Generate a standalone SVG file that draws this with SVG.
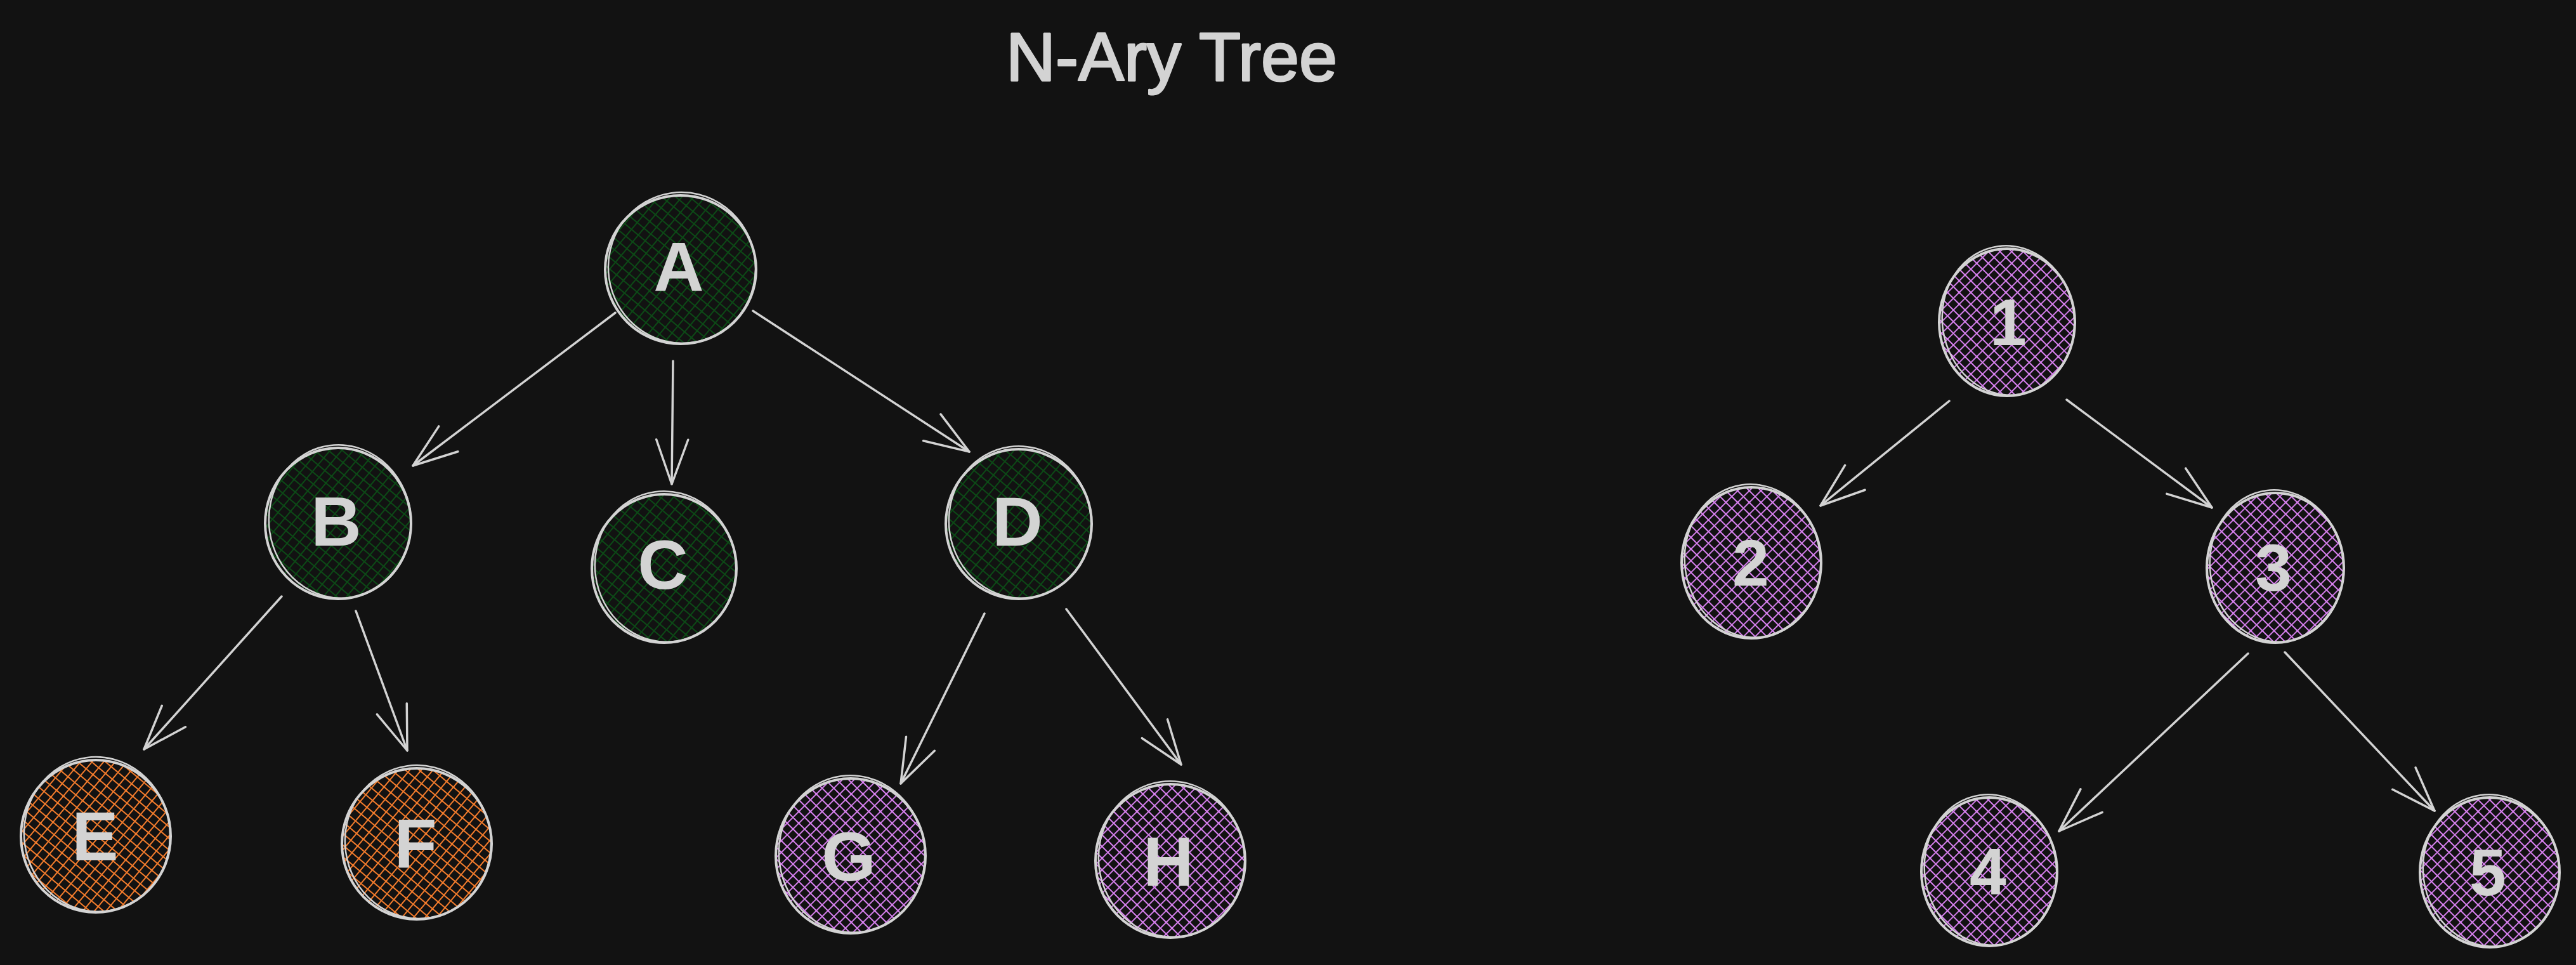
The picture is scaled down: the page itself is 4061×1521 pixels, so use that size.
<svg xmlns="http://www.w3.org/2000/svg" width="4061" height="1521" viewBox="0 0 4061 1521">
<style>
.bg{fill:#121212}
.title{font-family:"Liberation Sans",Arial,sans-serif;font-size:108px;fill:#d3d3d3;stroke:#d3d3d3;stroke-width:3;stroke-linejoin:round}
.lbl{font-family:"Liberation Sans",Arial,sans-serif;font-size:110px;font-weight:bold;fill:#d3d3d3;text-anchor:middle}
.ring{fill:none;stroke:#d3d3d3;stroke-width:4}
.ring2{fill:none;stroke:#d3d3d3;stroke-width:2.5}
.edge{fill:none;stroke:#d3d3d3;stroke-width:3.5;stroke-linecap:round;marker-end:url(#arr)}
.green{fill:url(#hGreen)}
.orange{fill:url(#hOrange)}
.purple{fill:url(#hPurple)}
</style>
<defs>
<pattern id="hGreen" patternUnits="userSpaceOnUse" width="14" height="14" patternTransform="rotate(40)">
<rect width="14" height="14" fill="#121212"/>
<path d="M0,0 H14 M0,0 V14" stroke="#0c4a16" stroke-width="4" fill="none"/>
</pattern>
<pattern id="hOrange" patternUnits="userSpaceOnUse" width="14" height="14" patternTransform="rotate(40)">
<rect width="14" height="14" fill="#121212"/>
<path d="M0,0 H14 M0,0 V14" stroke="#f47c2c" stroke-width="4" fill="none"/>
</pattern>
<pattern id="hPurple" patternUnits="userSpaceOnUse" width="13" height="13" patternTransform="rotate(45)">
<rect width="13" height="13" fill="#121212"/>
<path d="M0,0 H13 M0,0 V13" stroke="#da82f2" stroke-width="3.8" fill="none"/>
</pattern>
<marker id="arr" markerUnits="userSpaceOnUse" markerWidth="100" markerHeight="80" refX="0" refY="0" orient="auto" style="overflow:visible">
<path d="M-70,-25 L0,0 L-70,25" fill="none" stroke="#d3d3d3" stroke-width="3.5" stroke-linecap="round" stroke-linejoin="round"/>
</marker>
</defs>
<rect class="bg" x="0" y="0" width="4061" height="1521"/>
<text class="title" x="1847" y="127" text-anchor="middle">N-Ary Tree</text>

<g id="connectors">
<line class="edge" x1="970" y1="493" x2="651" y2="734"/>
<line class="edge" x1="1061" y1="569" x2="1059" y2="763"/>
<line class="edge" x1="1187" y1="490" x2="1528" y2="712"/>
<line class="edge" x1="444" y1="940" x2="227" y2="1181"/>
<line class="edge" x1="561" y1="963" x2="642" y2="1183"/>
<line class="edge" x1="1552" y1="967" x2="1420" y2="1235"/>
<line class="edge" x1="1681" y1="960" x2="1862" y2="1205"/>
<line class="edge" x1="3073" y1="632" x2="2870" y2="797"/>
<line class="edge" x1="3258" y1="630" x2="3487" y2="800"/>
<line class="edge" x1="3544" y1="1030" x2="3246" y2="1310"/>
<line class="edge" x1="3602" y1="1028" x2="3838" y2="1278"/>
</g>

<g id="node-A">
<ellipse class="green" cx="1073" cy="425" rx="119" ry="117"/>
<ellipse class="ring" cx="1073" cy="425" rx="119" ry="117"/>
<ellipse class="ring2" cx="1075" cy="422" rx="116" ry="119" transform="rotate(-8 1075 422)"/>
<text class="lbl" x="1070" y="458">A</text>
</g>
<g id="node-B">
<ellipse class="green" cx="533" cy="825" rx="115" ry="119"/>
<ellipse class="ring" cx="533" cy="825" rx="115" ry="119"/>
<ellipse class="ring2" cx="536" cy="822" rx="112" ry="121" transform="rotate(-8 536 822)"/>
<text class="lbl" x="530" y="860">B</text>
</g>
<g id="node-C">
<ellipse class="green" cx="1047" cy="896" rx="114" ry="117"/>
<ellipse class="ring" cx="1047" cy="896" rx="114" ry="117"/>
<ellipse class="ring2" cx="1049" cy="893" rx="111" ry="119" transform="rotate(-8 1049 893)"/>
<text class="lbl" x="1045" y="928">C</text>
</g>
<g id="node-D">
<ellipse class="green" cx="1606" cy="826" rx="115" ry="118"/>
<ellipse class="ring" cx="1606" cy="826" rx="115" ry="118"/>
<ellipse class="ring2" cx="1608" cy="823" rx="112" ry="120" transform="rotate(-8 1608 823)"/>
<text class="lbl" x="1604" y="860">D</text>
</g>
<g id="node-E">
<ellipse class="orange" cx="151" cy="1318" rx="118" ry="120"/>
<ellipse class="ring" cx="151" cy="1318" rx="118" ry="120"/>
<ellipse class="ring2" cx="153" cy="1315" rx="115" ry="122" transform="rotate(-8 153 1315)"/>
<text class="lbl" x="150" y="1356">E</text>
</g>
<g id="node-F">
<ellipse class="orange" cx="657" cy="1330" rx="118" ry="119"/>
<ellipse class="ring" cx="657" cy="1330" rx="118" ry="119"/>
<ellipse class="ring2" cx="659" cy="1327" rx="115" ry="121" transform="rotate(-8 659 1327)"/>
<text class="lbl" x="655" y="1368">F</text>
</g>
<g id="node-G">
<ellipse class="purple" cx="1341" cy="1349" rx="118" ry="122"/>
<ellipse class="ring" cx="1341" cy="1349" rx="118" ry="122"/>
<ellipse class="ring2" cx="1343" cy="1346" rx="115" ry="124" transform="rotate(-8 1343 1346)"/>
<text class="lbl" x="1338" y="1388">G</text>
</g>
<g id="node-H">
<ellipse class="purple" cx="1845" cy="1357" rx="118" ry="121"/>
<ellipse class="ring" cx="1845" cy="1357" rx="118" ry="121"/>
<ellipse class="ring2" cx="1847" cy="1354" rx="115" ry="123" transform="rotate(-8 1847 1354)"/>
<text class="lbl" x="1842" y="1396">H</text>
</g>
<g id="node-1">
<ellipse class="purple" cx="3164" cy="508" rx="107" ry="116"/>
<ellipse class="ring" cx="3164" cy="508" rx="107" ry="116"/>
<ellipse class="ring2" cx="3166" cy="505" rx="104" ry="118" transform="rotate(-8 3166 505)"/>
<text class="lbl" x="3166" y="544" style="font-size:104px">1</text>
</g>
<g id="node-2">
<ellipse class="purple" cx="2761" cy="887" rx="110" ry="119"/>
<ellipse class="ring" cx="2761" cy="887" rx="110" ry="119"/>
<ellipse class="ring2" cx="2763" cy="884" rx="107" ry="121" transform="rotate(-8 2763 884)"/>
<text class="lbl" x="2760" y="923" style="font-size:104px">2</text>
</g>
<g id="node-3">
<ellipse class="purple" cx="3587" cy="895" rx="108" ry="118"/>
<ellipse class="ring" cx="3587" cy="895" rx="108" ry="118"/>
<ellipse class="ring2" cx="3589" cy="892" rx="105" ry="120" transform="rotate(-8 3589 892)"/>
<text class="lbl" x="3584" y="931" style="font-size:104px">3</text>
</g>
<g id="node-4">
<ellipse class="purple" cx="3136" cy="1374" rx="107" ry="117"/>
<ellipse class="ring" cx="3136" cy="1374" rx="107" ry="117"/>
<ellipse class="ring2" cx="3138" cy="1371" rx="104" ry="119" transform="rotate(-8 3138 1371)"/>
<text class="lbl" x="3134" y="1410" style="font-size:104px">4</text>
</g>
<g id="node-5">
<ellipse class="purple" cx="3925" cy="1375" rx="110" ry="118"/>
<ellipse class="ring" cx="3925" cy="1375" rx="110" ry="118"/>
<ellipse class="ring2" cx="3927" cy="1372" rx="107" ry="120" transform="rotate(-8 3927 1372)"/>
<text class="lbl" x="3922" y="1411" style="font-size:104px">5</text>
</g>
</svg>
